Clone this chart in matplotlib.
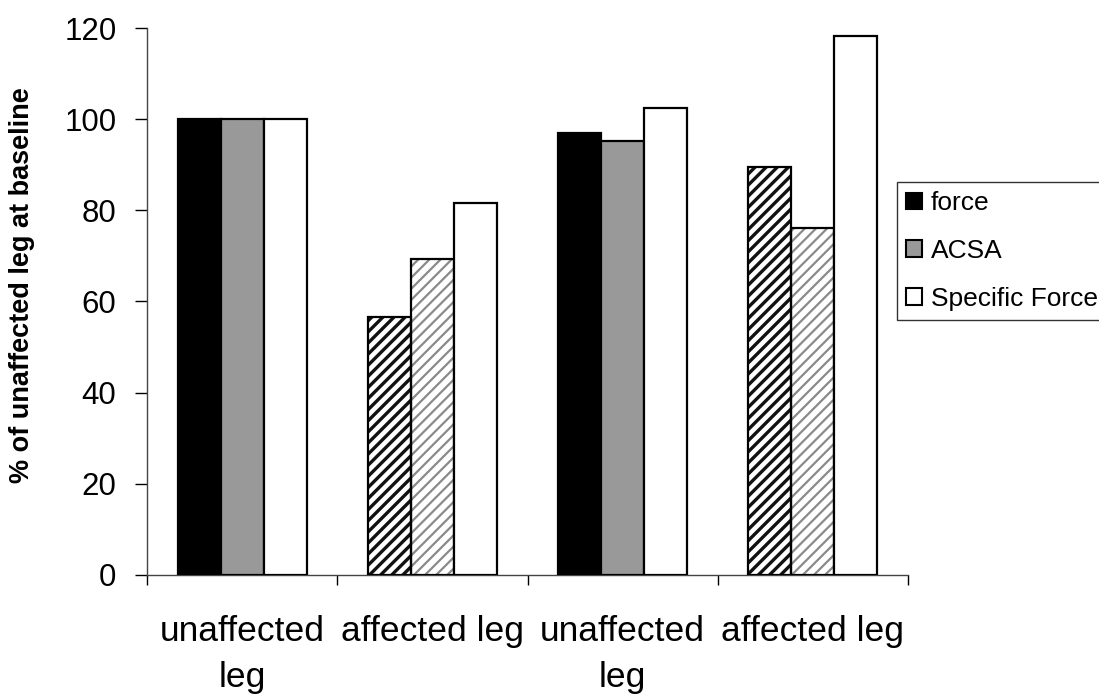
import matplotlib
matplotlib.use("Agg")
import matplotlib.pyplot as plt
import numpy as np
from matplotlib.patches import Patch

categories = ["unaffected\nleg", "affected leg", "unaffected\nleg", "affected leg"]
series_names = ["force", "ACSA", "Specific Force"]
force = [100, 56.5, 97, 89.5]
acsa = [100, 69.3, 95.2, 76.1]
specific = [100, 81.7, 102.4, 118.2]
hatched = [False, True, False, True]
yticks = [0, 20, 40, 60, 80, 100, 120]

plt.rcParams['font.family'] = ['Liberation Sans', 'DejaVu Sans']

fig = plt.figure(figsize=(10.99, 7.0), dpi=100)
ax = fig.add_axes([0.1338, 0.1786, 0.8262 - 0.1338, 0.96 - 0.1786])

x = np.arange(len(categories))
w = 0.226
offsets = [-w, 0, w]

for i in range(len(categories)):
    vals = [force[i], acsa[i], specific[i]]
    for j, v in enumerate(vals):
        xpos = x[i] + offsets[j]
        if j == 2:
            ax.bar(xpos, v, w, facecolor="white", edgecolor="black", linewidth=1.6, zorder=3)
            continue
        if hatched[i]:
            if j == 0:
                plt.rcParams['hatch.linewidth'] = 2.4
                ax.bar(xpos, v, w, facecolor="white", edgecolor="#111111", hatch="///", linewidth=0, zorder=2)
            else:
                plt.rcParams['hatch.linewidth'] = 1.6
                ax.bar(xpos, v, w, facecolor="white", edgecolor="#8a8a8a", hatch="///", linewidth=0, zorder=2)
            ax.bar(xpos, v, w, facecolor="none", edgecolor="black", linewidth=1.6, zorder=3)
        else:
            fc = "black" if j == 0 else "#999999"
            ax.bar(xpos, v, w, facecolor=fc, edgecolor="black", linewidth=1.6, zorder=3)

ax.set_xlim(-0.5, len(categories) - 0.5)
ax.set_ylim(0, 120)
ax.set_yticks(yticks)
ax.set_yticklabels([str(t) for t in yticks], fontsize=22.5)
ax.set_xticks(x)
ax.set_xticklabels(categories, fontsize=25.5, linespacing=1.5)
ax.tick_params(axis='x', which='major', length=0, pad=29)
ax.set_xticks(np.arange(-0.5, len(categories), 1.0), minor=True)
ax.tick_params(axis='x', which='minor', length=7, width=1, direction='out')
ax.tick_params(axis='y', length=9, width=1, direction='out', pad=13)
for s in ["top", "right"]:
    ax.spines[s].set_visible(False)
for s in ["left", "bottom"]:
    ax.spines[s].set_linewidth(1.0)
    ax.spines[s].set_color("#444444")

ax.set_ylabel("% of unaffected leg at baseline", fontsize=19.5, fontweight="bold")
ax.yaxis.set_label_coords(-0.147, 0.53)

handles = [
    Patch(facecolor="black", edgecolor="black", linewidth=1.5),
    Patch(facecolor="#999999", edgecolor="black", linewidth=1.5),
    Patch(facecolor="white", edgecolor="black", linewidth=1.5),
]
leg = fig.legend(handles, series_names, loc="upper left", bbox_to_anchor=(897 / 1099, 1 - 182 / 700),
                 fontsize=19, frameon=True, fancybox=False, handlelength=0.6, handleheight=0.6,
                 handletextpad=0.33, labelspacing=0.9, borderpad=0.35, borderaxespad=0)
leg.get_frame().set_edgecolor("black")
leg.get_frame().set_linewidth(1.0)

fig.savefig("out.png", dpi=100)
